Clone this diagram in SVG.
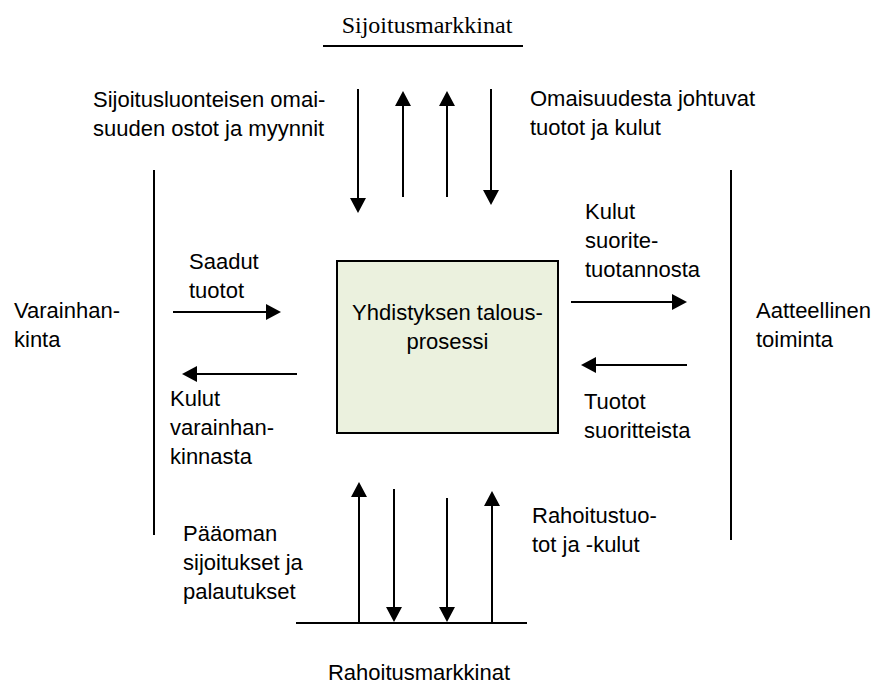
<svg xmlns="http://www.w3.org/2000/svg" width="876" height="684" viewBox="0 0 876 684">
<style>
.t{font-family:"Liberation Sans",Arial,sans-serif;font-size:22px;fill:#000}
.s{font-family:"Liberation Serif","Times New Roman",serif;font-size:24px;fill:#000}
.ln{stroke:#000;stroke-width:2;fill:none}
.ar{stroke:#000;stroke-width:2;fill:none;marker-end:url(#ah)}
.box{fill:#EBF1DE;stroke:#000;stroke-width:2}
</style>
<defs>
<marker id="ah" viewBox="0 0 15 16" refX="7" refY="8" markerWidth="15" markerHeight="16" markerUnits="userSpaceOnUse" orient="auto">
<path d="M0,0 L15,8 L0,16 z" fill="#000"/>
</marker>
</defs>
<rect width="876" height="684" fill="#fff"/>

<g id="sijoitusmarkkinat">
<text class="s" x="427" y="33" text-anchor="middle">Sijoitusmarkkinat</text>
<line class="ln" x1="323" y1="46" x2="523" y2="46"/>
</g>

<g id="rahoitusmarkkinat">
<line class="ln" x1="296" y1="623" x2="527" y2="623"/>
<text class="t" x="419" y="680" text-anchor="middle">Rahoitusmarkkinat</text>
</g>

<g id="varainhankinta">
<line class="ln" x1="154" y1="170" x2="154" y2="535"/>
<text class="t" x="14" y="318">Varainhan-</text>
<text class="t" x="14" y="347">kinta</text>
</g>

<g id="aatteellinen">
<line class="ln" x1="731" y1="170" x2="731" y2="540"/>
<text class="t" x="756" y="318">Aatteellinen</text>
<text class="t" x="756" y="347">toiminta</text>
</g>

<g id="prosessi">
<rect class="box" x="337" y="261" width="221" height="172"/>
<text class="t" x="447.5" y="320" text-anchor="middle">Yhdistyksen talous-</text>
<text class="t" x="447.5" y="349" text-anchor="middle">prosessi</text>
</g>

<g id="connectors">
<path class="ar" d="M358,89 V205"/>
<path class="ar" d="M403,197 V99"/>
<path class="ar" d="M447,197 V99"/>
<path class="ar" d="M491,89 V197"/>
<path class="ar" d="M173,312 H273"/>
<path class="ar" d="M297,374 H190"/>
<path class="ar" d="M571,302 H679"/>
<path class="ar" d="M687,365 H589"/>
<path class="ar" d="M359,622 V490"/>
<path class="ar" d="M394,489 V614"/>
<path class="ar" d="M447,498 V614"/>
<path class="ar" d="M492,622 V499"/>
</g>

<g id="label-ostot">
<text class="t" x="93" y="107">Sijoitusluonteisen omai-</text>
<text class="t" x="93" y="136">suuden ostot ja myynnit</text>
</g>
<g id="label-omaisuudesta">
<text class="t" x="530" y="106">Omaisuudesta johtuvat</text>
<text class="t" x="530" y="135">tuotot ja kulut</text>
</g>
<g id="label-saadut">
<text class="t" x="189" y="269">Saadut</text>
<text class="t" x="189" y="298">tuotot</text>
</g>
<g id="label-kulut-varainhankinnasta">
<text class="t" x="170" y="406">Kulut</text>
<text class="t" x="170" y="435">varainhan-</text>
<text class="t" x="170" y="464">kinnasta</text>
</g>
<g id="label-kulut-suoritetuotannosta">
<text class="t" x="585" y="219">Kulut</text>
<text class="t" x="585" y="248">suorite-</text>
<text class="t" x="585" y="277">tuotannosta</text>
</g>
<g id="label-tuotot-suoritteista">
<text class="t" x="584" y="409">Tuotot</text>
<text class="t" x="584" y="438">suoritteista</text>
</g>
<g id="label-paaoman">
<text class="t" x="183" y="541">Pääoman</text>
<text class="t" x="183" y="570">sijoitukset ja</text>
<text class="t" x="183" y="599">palautukset</text>
</g>
<g id="label-rahoitustuotot">
<text class="t" x="532" y="523">Rahoitustuo-</text>
<text class="t" x="532" y="552">tot ja -kulut</text>
</g>
</svg>
